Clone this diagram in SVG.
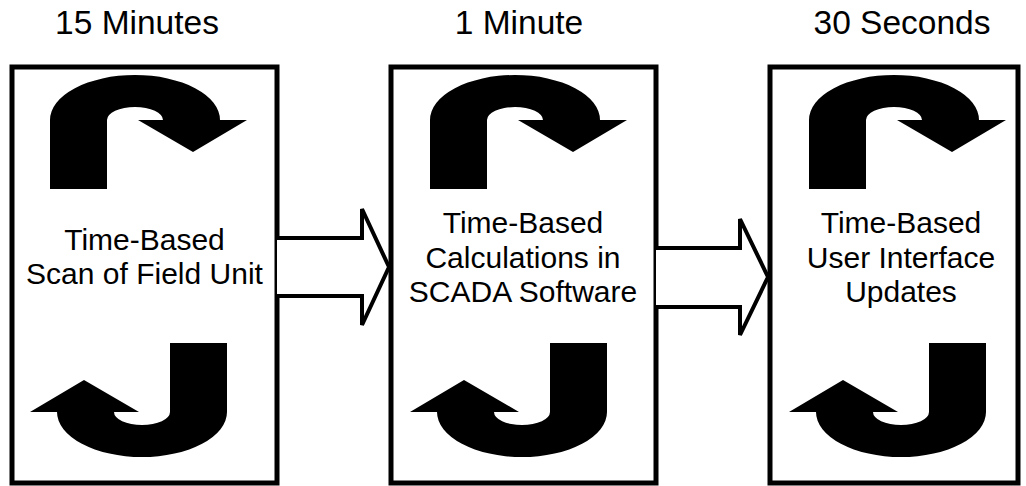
<svg xmlns="http://www.w3.org/2000/svg" xmlns:xlink="http://www.w3.org/1999/xlink" width="1026" height="486" viewBox="0 0 1026 486">
<style>
.box{fill:#fff;stroke:#000;stroke-width:5}
.title{font-family:"Liberation Sans",Arial,sans-serif;font-size:33.5px;fill:#000;text-anchor:middle}
.lbl{font-family:"Liberation Sans",Arial,sans-serif;font-size:30px;fill:#000;text-anchor:middle}
.conn{fill:#fff;stroke:#000;stroke-width:4;stroke-linejoin:miter}
</style>
<defs>
<path id="uturn" d="M50,189 L50,120 A85,45 0 0 1 220,120 L247,120 L193,152 L138,120 L163,120 A28,13 0 0 0 107,120 L107,189 Z" fill="#000"/>
</defs>
<g id="node1">
<rect class="box" x="12" y="67" width="265" height="416"/>
<use xlink:href="#uturn"/>
<use xlink:href="#uturn" transform="rotate(180 138.5 266)"/>
<text class="title" x="137" y="34">15 Minutes</text>
<text class="lbl" x="144.5" y="250">Time-Based</text>
<text class="lbl" x="144.5" y="284">Scan of Field Unit</text>
</g>
<g id="node2">
<rect class="box" x="391" y="67" width="265" height="416"/>
<use xlink:href="#uturn" transform="translate(380 0)"/>
<use xlink:href="#uturn" transform="translate(380 0) rotate(180 138.5 266)"/>
<text class="title" x="519" y="34">1 Minute</text>
<text class="lbl" x="523" y="233">Time-Based</text>
<text class="lbl" x="523" y="268">Calculations in</text>
<text class="lbl" x="523" y="302">SCADA Software</text>
</g>
<g id="node3">
<rect class="box" x="770" y="67" width="248" height="416"/>
<use xlink:href="#uturn" transform="translate(759 0)"/>
<use xlink:href="#uturn" transform="translate(759 0) rotate(180 138.5 266)"/>
<text class="title" x="902" y="34">30 Seconds</text>
<text class="lbl" x="901" y="233">Time-Based</text>
<text class="lbl" x="901" y="268">User Interface</text>
<text class="lbl" x="901" y="302">Updates</text>
</g>
<g id="connectors">
<polyline class="conn" points="277,238 362,238 362,209 389,267 362,325 362,296 277,296"/>
<polyline class="conn" points="656,248 740,248 740,219 768,277 740,335 740,307 656,307"/>
</g>
</svg>
